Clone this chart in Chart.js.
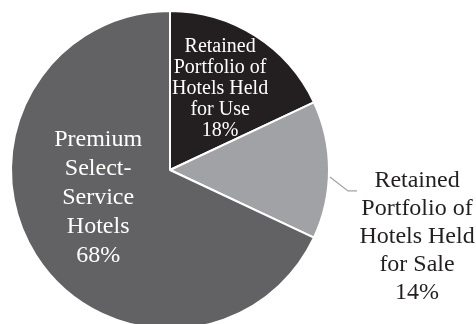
<!DOCTYPE html>
<html>
<head>
<meta charset="utf-8">
<script src="https://cdn.jsdelivr.net/npm/chart.js@4.4.1/dist/chart.umd.min.js"></script>
<style>
  html, body { margin: 0; padding: 0; background: #fff; overflow: hidden; }
  #wrap { width: 476px; height: 324px; overflow: hidden; }
</style>
</head>
<body>
<div id="wrap"><canvas id="pie" width="476" height="340"></canvas></div>
<script>
// --- Data ---
const categories = [
  'Retained Portfolio of Hotels Held for Use',
  'Retained Portfolio of Hotels Held for Sale',
  'Premium Select-Service Hotels'
];
const shares = [18, 14, 68];
const labelLines = [
  ['Retained', 'Portfolio of', 'Hotels Held', 'for Use'],
  ['Retained', 'Portfolio of', 'Hotels Held', 'for Sale'],
  ['Premium', 'Select-', 'Service', 'Hotels']
];
const sliceColors = ['#231f20', '#a1a2a5', '#626264'];

// --- Label placement (angle from top clockwise, distance as fraction of radius) ---
const labelStyle = [
  { angle: 31.7, dist: 0.60, size: 20, lineH: 21, color: '#ffffff' },
  { angle: 105.2, dist: 1.61, size: 24, lineH: 28, color: '#231f20',
    leader: [[92.5, 1.007], [96.7, 1.127]], leaderTail: 9 },
  { angle: 248.7, dist: 0.485, size: 24, lineH: 29, color: '#ffffff' }
];

function polar(cx, cy, r, deg, frac) {
  const a = deg * Math.PI / 180;
  return [cx + Math.sin(a) * r * frac, cy - Math.cos(a) * r * frac];
}

const sliceLabels = {
  id: 'sliceLabels',
  afterDatasetsDraw(chart) {
    const ctx = chart.ctx;
    const arcs = chart.getDatasetMeta(0).data;
    arcs.forEach((arc, i) => {
      const s = labelStyle[i];
      const { x, y, outerRadius } = arc.getProps(['x', 'y', 'outerRadius'], true);
      ctx.save();
      if (s.leader) {
        const p1 = polar(x, y, outerRadius, s.leader[0][0], s.leader[0][1]);
        const p2 = polar(x, y, outerRadius, s.leader[1][0], s.leader[1][1]);
        ctx.strokeStyle = '#a1a2a5';
        ctx.lineWidth = 1.2;
        ctx.beginPath();
        ctx.moveTo(p1[0], p1[1]);
        ctx.lineTo(p2[0], p2[1]);
        ctx.lineTo(p2[0] + s.leaderTail, p2[1]);
        ctx.stroke();
      }
      const lines = labelLines[i].concat([shares[i] + '%']);
      const [lx, ly] = polar(x, y, outerRadius, s.angle, s.dist);
      ctx.fillStyle = s.color;
      ctx.font = s.size + 'px "Liberation Serif", "Times New Roman", serif';
      ctx.textAlign = 'center';
      ctx.textBaseline = 'middle';
      const top = ly - (lines.length - 1) * s.lineH / 2;
      lines.forEach((t, k) => ctx.fillText(t, lx, top + k * s.lineH));
      ctx.restore();
    });
  }
};

new Chart(document.getElementById('pie'), {
  type: 'pie',
  data: {
    labels: categories,
    datasets: [{
      data: shares,
      backgroundColor: sliceColors,
      borderColor: '#ffffff',
      borderWidth: 2
    }]
  },
  options: {
    responsive: false,
    animation: false,
    radius: 159,
    layout: { padding: { left: 11, right: 147, top: 11, bottom: 11 } },
    plugins: {
      legend: { display: false },
      tooltip: { enabled: false }
    }
  },
  plugins: [sliceLabels]
});
</script>
</body>
</html>
